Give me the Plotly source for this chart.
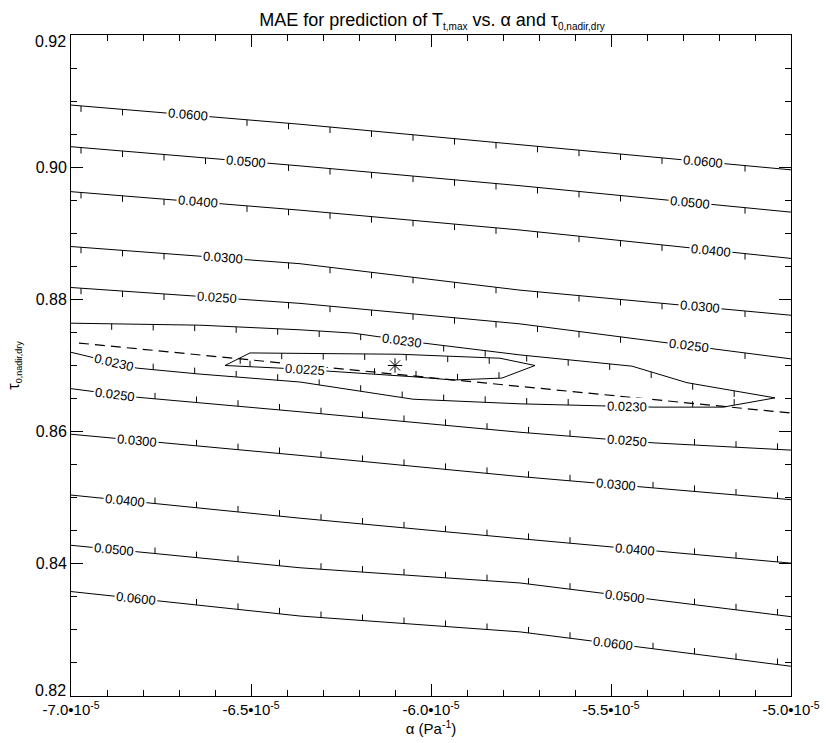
import math
import numpy as np
import plotly.graph_objects as go

E5 = 1e-5  # alpha values below are stored in units of 1e-5 Pa^-1

# ---------------- data ----------------
x_nodes = [-7.0, -6.3639, -5.7528, -5.0]

# contours above the valley (downhill ticks point down)
c0600_up_y = [0.9094, 0.9065, 0.9034, 0.8996]
c0500_up_y = [0.9031, 0.9002, 0.8972, 0.8932]
c0400_up_y = [0.8963, 0.8935, 0.8905, 0.8862]
c0300_up_y = [0.8880, 0.8854, 0.8814, 0.8776]
c0250_up_y = [0.8818, 0.8794, 0.8763, 0.8710]

# contours below the valley (downhill ticks point up)
c0250_lo_x = [-7.0, -6.8167, -6.3639, -5.7528, -5.3833, -5.0]
c0250_lo_y = [0.8665, 0.8652, 0.8630, 0.8599, 0.8583, 0.8572]
c0300_lo_y = [0.8596, 0.8564, 0.8532, 0.8497]
c0400_lo_y = [0.8504, 0.8469, 0.8438, 0.8401]
c0500_lo_y = [0.8428, 0.8394, 0.8371, 0.8320]
c0600_lo_y = [0.8358, 0.8321, 0.8297, 0.8245]

# closed 0.0230 contour (top and bottom boundaries)
c0230_top_x = [-7.0, -6.6417, -6.3639, -6.2167, -6.0222, -5.7528, -5.4417, -5.2889, -5.0444]
c0230_top_y = [0.8764, 0.8761, 0.8754, 0.8749, 0.8734, 0.8716, 0.8699, 0.8674, 0.8651]
c0230_bot_x = [-5.0444, -5.1889, -5.3833, -5.7528, -6.05, -6.3639, -6.6417, -6.8167, -7.0]
c0230_bot_y = [0.8651, 0.8637, 0.8637, 0.8642, 0.8649, 0.8675, 0.8687, 0.8696, 0.8720]

# closed 0.0225 contour
c0225_top_x = [-6.5722, -6.5028, -6.0861, -5.8083, -5.7111]
c0225_top_y = [0.8700, 0.8719, 0.8717, 0.8711, 0.8700]
c0225_bot_x = [-5.7111, -5.8028, -5.9389, -6.05, -6.2722, -6.4194, -6.5722]
c0225_bot_y = [0.8700, 0.8681, 0.8678, 0.8683, 0.8691, 0.8696, 0.8700]

# dashed line and best-fit point
dash_x = [-6.9778, -5.0]
dash_y = [0.8734, 0.8628]
best_x = [-6.1]
best_y = [0.870]

# label positions along each contour (alpha, 1e-5 units)
lab_0600_up = [-6.6764, -5.2444]
lab_0500_up = [-6.5139, -5.2806]
lab_0400_up = [-6.6472, -5.2222]
lab_0300_up = [-6.5778, -5.2528]
lab_0250_up = [-6.5944, -5.2833]
lab_0230_top = [-6.0806]
lab_0230_bot = [-6.8806, -5.4556]
lab_0225_bot = [-6.35]
lab_0250_lo = [-6.8778, -5.4556]
lab_0300_lo = [-6.8167, -5.4861]
lab_0400_lo = [-6.85, -5.4333]
lab_0500_lo = [-6.8806, -5.4611]
lab_0600_lo = [-6.8194, -5.4944]

x_tickvals = [-7.0, -6.5, -6.0, -5.5, -5.0]
x_ticktext = ["-7.0•10<sup>-5</sup>", "-6.5•10<sup>-5</sup>", "-6.0•10<sup>-5</sup>",
              "-5.5•10<sup>-5</sup>", "-5.0•10<sup>-5</sup>"]
y_tickvals = [0.82, 0.84, 0.86, 0.88, 0.90, 0.92]
y_ticktext = ["0.82", "0.84", "0.86", "0.88", "0.90", "0.92"]

# ---------------- layout geometry ----------------
W, H = 826, 743
ML, MR, MT, MB = 71, 35, 35, 47
PW, PH = W - ML - MR, H - MT - MB
XR = (-7.0, -5.0)
YR = (0.82, 0.92)
PXX = PW / (XR[1] - XR[0])   # px per 1e-5
PXY = PH / (YR[1] - YR[0])   # px per unit tau

TICK_SPACING = 41.5 / PXX
TICK_LEN = 6.0 / PXY
LABEL_HALF = 30.0 / PXX
EDGE = 6.0 / PXX

FONT = "Liberation Sans, Arial, Helvetica, sans-serif"

fig = go.Figure()
annotations = []
tick_x, tick_y = [], []


def add_line(xs, ys):
    fig.add_trace(go.Scatter(x=[v * E5 for v in xs], y=ys, mode="lines",
                             line=dict(color="black", width=1),
                             hoverinfo="skip", showlegend=False))


def interp(xs, ys, x):
    order = np.argsort(xs)
    return float(np.interp(x, np.array(xs)[order], np.array(ys)[order]))


def add_ticks(xs, ys, direction, phase, labels):
    lo, hi = min(xs), max(xs)
    k = math.ceil((lo - phase) / TICK_SPACING)
    while True:
        tx = phase + k * TICK_SPACING
        k += 1
        if tx > hi:
            break
        if tx < lo + EDGE or tx > hi - EDGE:
            continue
        if any(abs(tx - lx) < LABEL_HALF for lx in labels):
            continue
        ty = interp(xs, ys, tx)
        tick_x.extend([tx * E5, tx * E5, None])
        tick_y.extend([ty, ty + direction * TICK_LEN, None])


def add_labels(xs, ys, text, labels):
    for lx in labels:
        ly = interp(xs, ys, lx)
        d = 0.03
        slope = (interp(xs, ys, lx + d) - interp(xs, ys, lx - d)) / (2 * d)
        ang = math.degrees(math.atan(-slope * PXY / PXX))
        annotations.append(dict(x=lx * E5, y=ly, xref="x", yref="y", text=text,
                                showarrow=False, textangle=ang, bgcolor="white",
                                borderpad=1, xanchor="center", yanchor="middle",
                                font=dict(size=13, family=FONT, color="black")))


PH_UP, PH_LO = -6.9722, -6.9972
PH_230 = -6.887
PH_225_T, PH_225_B = -6.4147, -6.2722

open_lines = [
    (x_nodes, c0600_up_y, "0.0600", lab_0600_up, -1, PH_UP),
    (x_nodes, c0500_up_y, "0.0500", lab_0500_up, -1, PH_UP),
    (x_nodes, c0400_up_y, "0.0400", lab_0400_up, -1, PH_UP),
    (x_nodes, c0300_up_y, "0.0300", lab_0300_up, -1, PH_UP),
    (x_nodes, c0250_up_y, "0.0250", lab_0250_up, -1, PH_UP),
    (c0250_lo_x, c0250_lo_y, "0.0250", lab_0250_lo, 1, PH_LO),
    (x_nodes, c0300_lo_y, "0.0300", lab_0300_lo, 1, PH_LO),
    (x_nodes, c0400_lo_y, "0.0400", lab_0400_lo, 1, PH_LO),
    (x_nodes, c0500_lo_y, "0.0500", lab_0500_lo, 1, PH_LO),
    (x_nodes, c0600_lo_y, "0.0600", lab_0600_lo, 1, PH_LO),
]
for xs, ys, text, labs, direc, ph in open_lines:
    add_line(xs, ys)
    add_ticks(xs, ys, direc, ph, labs)
    add_labels(xs, ys, text, labs)

# closed contours
add_line(c0230_top_x + c0230_bot_x[1:], c0230_top_y + c0230_bot_y[1:])
add_ticks(c0230_top_x, c0230_top_y, -1, PH_230, lab_0230_top)
add_ticks(c0230_bot_x, c0230_bot_y, 1, PH_230, lab_0230_bot)
add_labels(c0230_top_x, c0230_top_y, "0.0230", lab_0230_top)
add_labels(c0230_bot_x, c0230_bot_y, "0.0230", lab_0230_bot)

add_line(c0225_top_x + c0225_bot_x[1:], c0225_top_y + c0225_bot_y[1:])
add_ticks(c0225_top_x, c0225_top_y, -1, PH_225_T, [])
add_ticks(c0225_bot_x, c0225_bot_y, 1, PH_225_B, lab_0225_bot)
add_labels(c0225_bot_x, c0225_bot_y, "0.0225", lab_0225_bot)

fig.add_trace(go.Scatter(x=tick_x, y=tick_y, mode="lines",
                         line=dict(color="black", width=1),
                         hoverinfo="skip", showlegend=False))

fig.add_trace(go.Scatter(x=[v * E5 for v in dash_x], y=dash_y, mode="lines",
                         line=dict(color="black", width=1.2, dash="10px,6px"),
                         hoverinfo="skip", showlegend=False))

fig.add_trace(go.Scatter(x=[v * E5 for v in best_x], y=best_y, mode="markers",
                         marker=dict(symbol="asterisk-open", size=12, color="black",
                                     line=dict(color="black", width=1)),
                         hoverinfo="skip", showlegend=False))

# end-of-axis y labels are nudged inside the axis range (as in the reference)
y_axis_labels = []
for v, t in zip(y_tickvals, y_ticktext):
    if v in (YR[0], YR[1]):
        y_axis_labels.append(dict(x=0, xref="paper", y=v, yref="y", text=t,
                                  showarrow=False, xanchor="right", yanchor="middle",
                                  xshift=-3, yshift=6 if v == YR[0] else -6,
                                  font=dict(size=16, family=FONT, color="black")))
y_ticktext_axis = ["" if v in (YR[0], YR[1]) else t for v, t in zip(y_tickvals, y_ticktext)]

axis_common = dict(ticks="inside", tickwidth=1, tickcolor="black",
                   showline=True, linecolor="black", linewidth=1, mirror="ticks",
                   showgrid=False, zeroline=False, automargin=False)

fig.update_layout(
    width=W, height=H,
    margin=dict(l=ML, r=MR, t=MT, b=MB),
    paper_bgcolor="white", plot_bgcolor="white",
    font=dict(family=FONT, color="black"),
    title=dict(text="MAE for prediction of T<sub><span style='font-size:10px'>t,max</span></sub>"
                    " vs. α and τ<sub><span style='font-size:10px'>0,nadir,dry</span></sub>",
               x=0.523, xref="container", y=1 - 20 / H, yref="container",
               xanchor="center", yanchor="middle",
               font=dict(size=18, family=FONT, color="black")),
    xaxis=dict(range=[XR[0] * E5, XR[1] * E5], tickmode="array",
               tickvals=[v * E5 for v in x_tickvals], ticktext=x_ticktext,
               ticklen=12, tickfont=dict(size=15, family=FONT, color="black"),
               minor=dict(ticks="inside", ticklen=6, tickmode="linear",
                          tick0=XR[0] * E5, dtick=0.1 * E5, tickcolor="black",
                          tickwidth=1, showgrid=False),
               title=dict(text="α (Pa<sup>-1</sup>)", standoff=4,
                          font=dict(size=15, family=FONT, color="black")),
               **axis_common),
    yaxis=dict(range=list(YR), tickmode="array", tickvals=y_tickvals,
               ticktext=y_ticktext_axis, ticklen=12,
               tickfont=dict(size=16, family=FONT, color="black"),
               minor=dict(ticks="inside", ticklen=6, tickmode="linear",
                          tick0=YR[0], dtick=0.005, tickcolor="black",
                          tickwidth=1, showgrid=False),
               title=dict(text="τ<sub><span style='font-size:9px'>0,nadir,dry</span></sub>",
                          standoff=12,
                          font=dict(size=16, family=FONT, color="black")),
               **axis_common),
    annotations=annotations + y_axis_labels,
)

fig.write_html("out.html")
